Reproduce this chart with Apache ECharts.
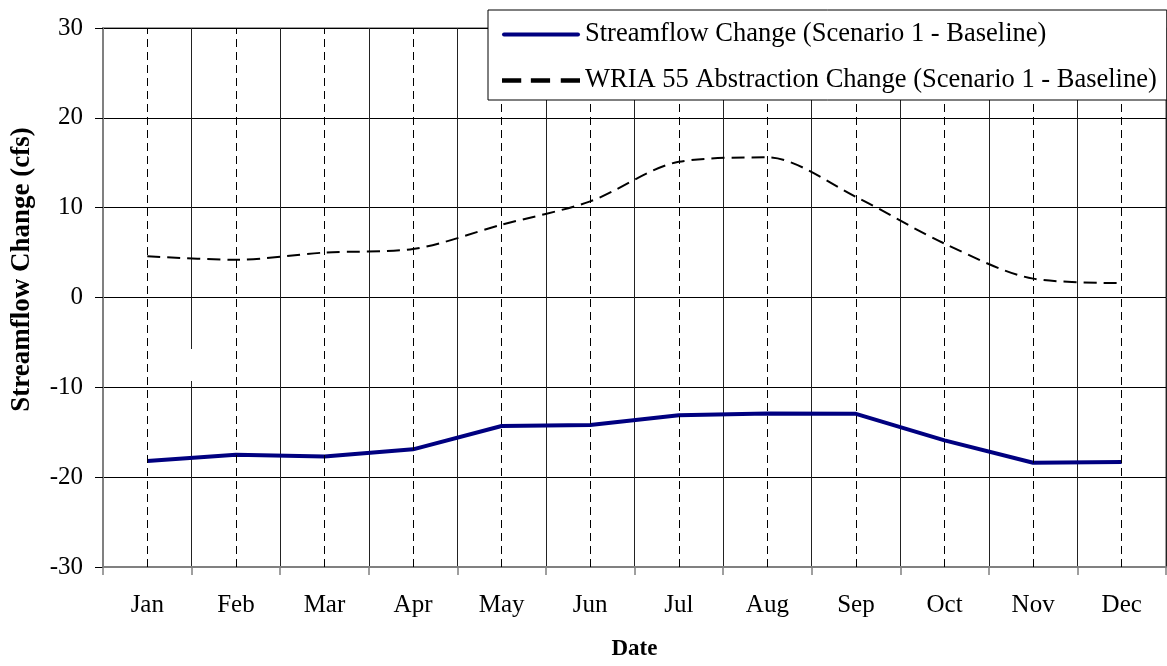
<!DOCTYPE html>
<html><head><meta charset="utf-8">
<script src="https://cdn.jsdelivr.net/npm/echarts@6/dist/echarts.min.js"></script>
<style>html,body{margin:0;padding:0;background:#fff}#c{width:1167px;height:666px}</style>
</head><body><div id="c"></div>
<script>
const categories = ['Jan','Feb','Mar','Apr','May','Jun','Jul','Aug','Sep','Oct','Nov','Dec'];
const streamflowChange = [-18.2,-17.5,-17.7,-16.9,-14.3,-14.2,-13.1,-12.9,-12.95,-15.9,-18.4,-18.3];
const abstractionChange = [4.6,4.2,5.0,5.4,8.1,10.7,15.1,15.6,11.2,6.0,2.1,1.6];
const yTicks = [-30,-20,-10,0,10,20,30];
const seriesNames = ['Streamflow Change (Scenario 1 - Baseline)','WRIA 55 Abstraction Change (Scenario 1 - Baseline)'];

const font = 'Liberation Serif, Times New Roman, serif';
const chart = echarts.init(document.getElementById('c'), null, {renderer:'canvas'});
chart.setOption({
  animation:false,
  backgroundColor:'#fff',
  grid:{left:103,right:1,top:28,bottom:98,show:true,borderColor:'#808080',borderWidth:1.5,backgroundColor:'transparent'},
  legend:{
    orient:'vertical', left:488, top:10, z:10,
    backgroundColor:'#fff', borderColor:'#000', borderWidth:1,
    padding:[11,10,6,14], itemGap:19, itemWidth:78, itemHeight:5,
    textStyle:{fontFamily:font,fontSize:26.5,color:'#000'},
    data:[
      {name:seriesNames[0],icon:'path://M2,0h74a2,2 0 0 1 0,4h-74a2,2 0 0 1 0,-4z',itemStyle:{color:'#000080'}},
      {name:seriesNames[1],icon:'path://M0,0h18v4h-18z M27,0h18v4h-18z M55,0h18v4h-18z',itemStyle:{color:'#000'}}
    ]
  },
  xAxis:{
    type:'category', data:categories, boundaryGap:true,
    name:'Date', nameLocation:'middle', nameGap:71,
    nameTextStyle:{fontFamily:font,fontSize:23,fontWeight:'bold',color:'#000'},
    axisLine:{onZero:false,lineStyle:{color:'#808080',width:2}},
    axisTick:{show:true,inside:false,length:8,lineStyle:{color:'#808080',width:1.5}},
    axisLabel:{fontFamily:font,fontSize:25,color:'#000',margin:26},
    splitLine:{show:true,lineStyle:{color:'#222',width:1}}
  },
  yAxis:{
    type:'value', min:-30, max:30, interval:10,
    name:'Streamflow Change (cfs)', nameLocation:'middle', nameGap:67, nameRotate:90,
    nameTextStyle:{fontFamily:font,fontSize:27,fontWeight:'bold',color:'#000',padding:[0,0,0,56]},
    axisLine:{show:true,lineStyle:{color:'#808080',width:2}},
    axisTick:{show:true,inside:false,length:8,lineStyle:{color:'#000',width:1}},
    axisLabel:{fontFamily:font,fontSize:25,color:'#000',margin:20,
      formatter:v=>yTicks.includes(v)?String(v):''},
    splitLine:{show:true,lineStyle:{color:'#000',width:1}}
  },
  graphic:[{type:'rect',shape:{x:190,y:349,width:4,height:32},style:{fill:'#fff'},z:1}],
  series:[
    {name:seriesNames[0],type:'line',data:streamflowChange,symbol:'none',
     lineStyle:{color:'#000080',width:4},itemStyle:{color:'#000080'},z:3},
    {name:seriesNames[1],type:'line',data:abstractionChange,symbol:'none',smooth:0.3,
     lineStyle:{color:'#000',width:2,type:[13,7]},itemStyle:{color:'#000'},z:2,
     markLine:{silent:true,symbol:'none',label:{show:false},
       lineStyle:{color:'#000',width:1,type:[8,5]},
       data:categories.map(c=>({xAxis:c}))}}
  ]
});
</script></body></html>
